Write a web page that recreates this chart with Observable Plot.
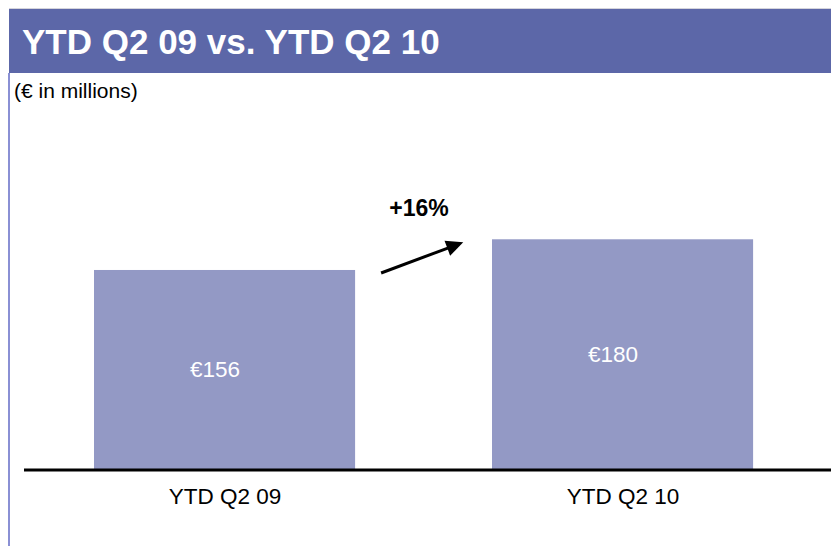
<!DOCTYPE html>
<html><head><meta charset="utf-8">
<script src="https://cdn.jsdelivr.net/npm/d3@7"></script>
<script src="https://cdn.jsdelivr.net/npm/@observablehq/plot@0.6"></script>
<style>
body{margin:0;background:#fff;font-family:"Liberation Sans",Arial,sans-serif;}
#wrap{position:relative;width:831px;height:546px;overflow:hidden;background:#fff;}
#band{position:absolute;left:9px;top:8px;width:822px;height:65px;background:#5c67a8;border-top:1px solid #d4d4dc;box-sizing:border-box;}
#title{position:absolute;left:22px;top:24px;color:#fff;font-weight:bold;font-size:35px;line-height:35px;white-space:nowrap;}
#sub{position:absolute;left:14px;top:80px;color:#000;font-size:21px;line-height:21px;white-space:nowrap;}
#edge{position:absolute;left:8px;top:73px;width:2px;height:473px;background:#8a90d4;}
#chart{position:absolute;left:0;top:73px;}
</style>
</head><body>
<div id="wrap">
  <div id="chart"></div>
  <div id="band"></div>
  <div id="title">YTD Q2 09 vs. YTD Q2 10</div>
  <div id="sub">(€ in millions)</div>
  <div id="edge"></div>
</div>
<script>
const categories = ["YTD Q2 09", "YTD Q2 10"];
const values = [156, 180];
const valueLabels = ["€156", "€180"];
const changeLabel = "+16%";

const data = categories.map((c, i) => ({category: c, value: values[i], label: valueLabels[i]}));

function changeArrow(index, scales) {
  const x = scales.x, y = scales.y;
  let bw = 0;
  if (typeof x.bandwidth === "function") bw = x.bandwidth();
  else if (scales.scales && scales.scales.x) bw = scales.scales.x.bandwidth || 0;
  const gapL = x(categories[0]) + bw, gapR = x(categories[1]);
  const gap = gapR - gapL;
  const x0 = gapL + gap * 0.19, x1 = gapR - gap * 0.21;
  const y0 = y(values[0]) + 3, y1 = y(values[1]) + 3;
  const len = Math.hypot(x1 - x0, y1 - y0);
  const ux = (x1 - x0) / len, uy = (y1 - y0) / len;
  const hl = 17, hw = 8;
  const bx = x1 - hl * ux, by = y1 - hl * uy;
  const g = d3.create("svg:g");
  g.append("line").attr("x1", x0).attr("y1", y0).attr("x2", bx + 2 * ux).attr("y2", by + 2 * uy)
    .attr("stroke", "#000").attr("stroke-width", 3);
  g.append("polygon")
    .attr("points", [[x1, y1], [bx - hw * uy, by + hw * ux], [bx + hw * uy, by - hw * ux]].map(p => p.join(",")).join(" "))
    .attr("fill", "#000");
  g.append("text").attr("x", gapL + gap * 0.467).attr("y", y(values[1]) - 31).attr("dy", "0.35em")
    .attr("text-anchor", "middle").attr("font-weight", "bold").attr("font-size", 23).attr("fill", "#000")
    .text(changeLabel);
  return g.node();
}

const plot = Plot.plot({
  width: 831,
  height: 473,
  marginTop: 140.7,
  marginBottom: 76.5,
  marginLeft: 0,
  marginRight: 0,
  style: {fontFamily: "'Liberation Sans', Arial, sans-serif", background: "transparent", overflow: "visible"},
  x: {domain: categories, range: [14.4, 832.7], paddingInner: 0.344, paddingOuter: 0.2, round: false},
  y: {domain: [0, 200], axis: null},
  marks: [
    Plot.barY(data, {x: "category", y: "value", fill: "#9399c5"}),
    Plot.text(data, {x: "category", y: d => d.value / 2, text: "label", fill: "white", fontSize: 22.5, dx: -10}),
    Plot.ruleY([0], {insetLeft: 24, stroke: "#000", strokeWidth: 3}),
    Plot.axisX({tickSize: 0, tickPadding: 18.5, fontSize: 22.5, label: null, fill: "#000"}),
    changeArrow
  ]
});
document.getElementById("chart").appendChild(plot);
</script>
</body></html>
